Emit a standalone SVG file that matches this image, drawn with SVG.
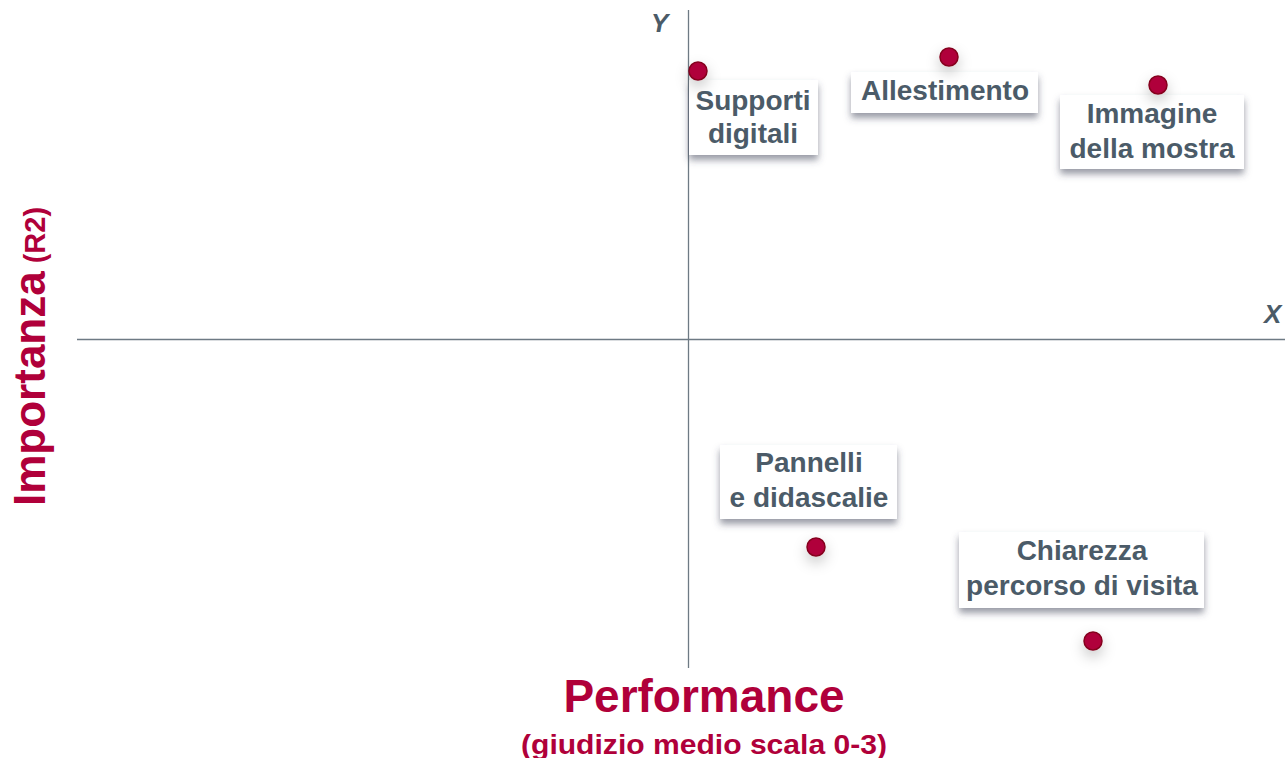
<svg xmlns="http://www.w3.org/2000/svg" width="1285" height="758" viewBox="0 0 1285 758">
<defs>
<filter id="boxShadow" x="-20%" y="-30%" width="140%" height="170%">
<feDropShadow dx="0" dy="5" stdDeviation="3.5" flood-color="#454a5c" flood-opacity="0.55"/>
</filter>
<filter id="dotShadow" x="-200%" y="-200%" width="500%" height="500%">
<feDropShadow dx="0" dy="6" stdDeviation="7" flood-color="#000" flood-opacity="0.22"/>
</filter>
<style>
.box{fill:#ffffff;filter:url(#boxShadow);}
.lbl{font-family:"Liberation Sans",Arial,sans-serif;font-weight:bold;font-size:28px;fill:#4b5b68;text-anchor:middle;}
.dot{fill:#b0003a;stroke:#85001e;stroke-width:1.5;filter:url(#dotShadow);}
.axis{stroke:#6e7a84;stroke-width:1.3;fill:none;}
.axlbl{font-family:"Liberation Sans",Arial,sans-serif;font-weight:bold;font-style:italic;font-size:26px;fill:#4b5b68;}
.title{font-family:"Liberation Sans",Arial,sans-serif;font-weight:bold;fill:#b0003a;}
</style>
</defs>
<rect width="1285" height="758" fill="#ffffff"/>
<g id="axes">
<line class="axis" x1="688.5" y1="10" x2="688.5" y2="668" stroke="#8a96a0"/>
<line class="axis" x1="77" y1="339.5" x2="1285" y2="339.5"/>
<text class="axlbl" x="651" y="32">Y</text>
<text class="axlbl" x="1264" y="323">X</text>
</g>
<g id="titles">
<text class="title" x="704" y="712" font-size="46" text-anchor="middle">Performance</text>
<text class="title" x="704" y="754" font-size="27" text-anchor="middle" textLength="366" lengthAdjust="spacingAndGlyphs">(giudizio medio scala 0-3)</text>
<text class="title" transform="translate(45,506) rotate(-90)" font-size="44">Importanza<tspan font-size="29" dx="8">(R2)</tspan></text>
</g>
<g id="node-supporti">
<rect class="box" x="689" y="80" width="129" height="75"/>
<circle class="dot" cx="698" cy="71" r="9"/>
<text class="lbl" x="753" y="110">Supporti</text>
<text class="lbl" x="753" y="143">digitali</text>
</g>
<g id="node-allestimento">
<rect class="box" x="851" y="72" width="187" height="41"/>
<circle class="dot" cx="949" cy="57" r="9"/>
<text class="lbl" x="945" y="100">Allestimento</text>
</g>
<g id="node-immagine">
<rect class="box" x="1060" y="95" width="184" height="74"/>
<circle class="dot" cx="1158" cy="85" r="9"/>
<text class="lbl" x="1152" y="123">Immagine</text>
<text class="lbl" x="1152" y="158">della mostra</text>
</g>
<g id="node-pannelli">
<rect class="box" x="720" y="445" width="177" height="74"/>
<circle class="dot" cx="816" cy="547" r="9"/>
<text class="lbl" x="809" y="472">Pannelli</text>
<text class="lbl" x="809" y="507">e didascalie</text>
</g>
<g id="node-chiarezza">
<rect class="box" x="959" y="532" width="245" height="76"/>
<circle class="dot" cx="1093" cy="641" r="9"/>
<text class="lbl" x="1082" y="560">Chiarezza</text>
<text class="lbl" x="1082" y="595">percorso di visita</text>
</g>
<g id="connectors"></g>
</svg>
